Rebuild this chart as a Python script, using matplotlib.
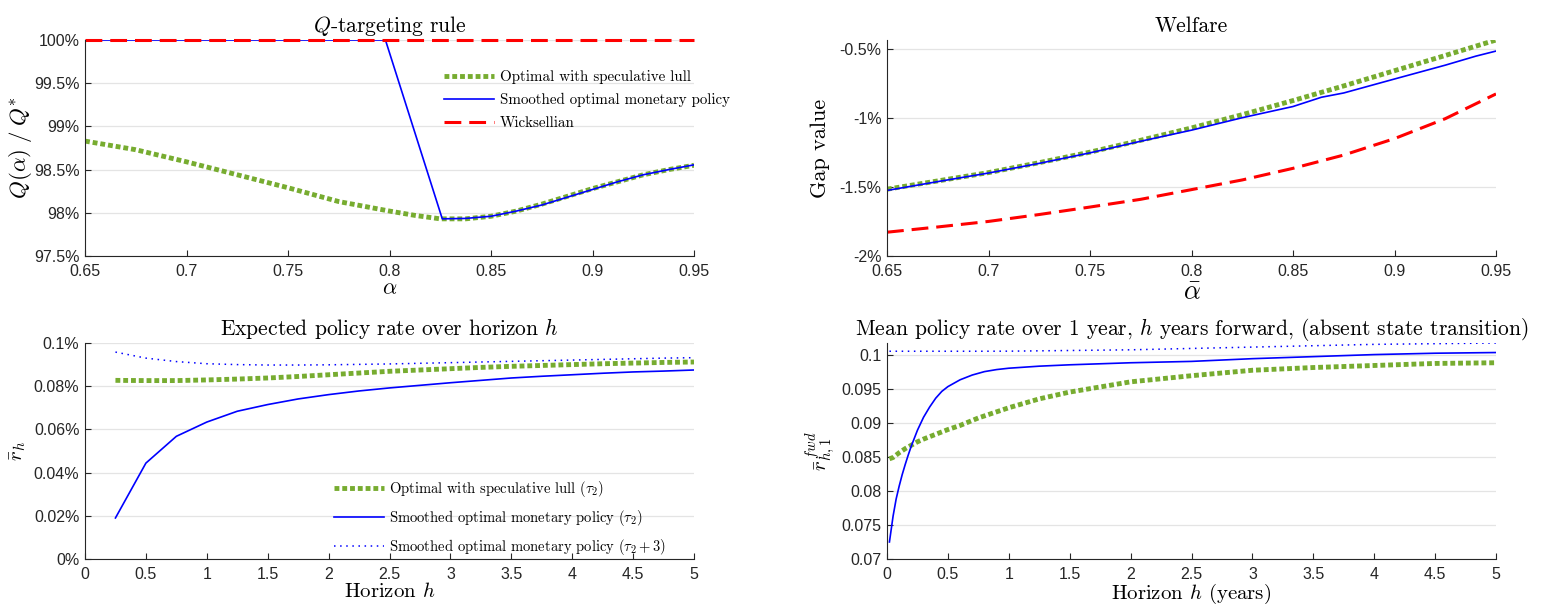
import matplotlib
matplotlib.use("Agg")
import matplotlib.pyplot as plt
from matplotlib.ticker import FuncFormatter

plt.rcParams['mathtext.fontset'] = 'cm'
plt.rcParams['axes.unicode_minus'] = False

# ---------------- data ----------------
# Panel 1: Q-targeting rule
alpha_green = [0.65, 0.675, 0.70, 0.725, 0.75, 0.775, 0.80, 0.8125, 0.825, 0.8375,
               0.85, 0.8625, 0.875, 0.8875, 0.90, 0.9125, 0.925, 0.9375, 0.95]
q_green = [98.83, 98.73, 98.59, 98.44, 98.29, 98.13, 98.02, 97.97, 97.93, 97.93,
           97.96, 98.02, 98.10, 98.19, 98.28, 98.36, 98.44, 98.50, 98.55]
alpha_blue = [0.65, 0.798, 0.826, 0.8375, 0.85, 0.8625, 0.875, 0.8875, 0.90,
              0.9125, 0.925, 0.9375, 0.95]
q_blue = [100.0, 100.0, 97.93, 97.935, 97.96, 98.02, 98.09, 98.18, 98.27,
          98.36, 98.44, 98.50, 98.555]
alpha_red = [0.65, 0.95]
q_red = [100.0, 100.0]

# Panel 2: Welfare
alpha_w = [0.65, 0.675, 0.70, 0.725, 0.75, 0.775, 0.80, 0.825, 0.85, 0.875, 0.90, 0.925, 0.95]
w_green = [-1.517, -1.457, -1.397, -1.325, -1.249, -1.163, -1.074, -0.978, -0.876,
           -0.770, -0.660, -0.550, -0.438]
alpha_wb = [0.65, 0.675, 0.70, 0.725, 0.75, 0.775, 0.80, 0.825, 0.85, 0.864, 0.875,
            0.90, 0.925, 0.94, 0.95]
w_blue = [-1.526, -1.462, -1.400, -1.330, -1.254, -1.170, -1.090, -1.000, -0.919,
          -0.852, -0.821, -0.720, -0.620, -0.555, -0.518]
w_red = [-1.828, -1.790, -1.750, -1.700, -1.646, -1.590, -1.520, -1.450, -1.366,
         -1.270, -1.151, -1.007, -0.828]

# Panel 3: Expected policy rate over horizon h
h_exp = [0.25, 0.5, 0.75, 1.0, 1.25, 1.5, 1.75, 2.0, 2.25, 2.5, 2.75, 3.0, 3.25, 3.5,
         3.75, 4.0, 4.25, 4.5, 4.75, 5.0]
r_green = [0.0827, 0.0826, 0.0826, 0.0829, 0.0833, 0.0838, 0.0845, 0.0853, 0.0861, 0.0869,
           0.0875, 0.0881, 0.0887, 0.0892, 0.0896, 0.0900, 0.0904, 0.0907, 0.0910, 0.0912]
r_blue = [0.0190, 0.0444, 0.0568, 0.0634, 0.0684, 0.0715, 0.0741, 0.0761, 0.0778, 0.0792,
          0.0804, 0.0816, 0.0827, 0.0838, 0.0846, 0.0853, 0.0860, 0.0866, 0.0870, 0.0875]
r_blue3 = [0.0958, 0.0930, 0.0914, 0.0904, 0.0900, 0.0898, 0.0898, 0.0899, 0.0901, 0.0903,
           0.0906, 0.0909, 0.0912, 0.0915, 0.0918, 0.0921, 0.0924, 0.0927, 0.0930, 0.0932]

# Panel 4: Mean policy rate over 1 year, h years forward
h_fwd_blue = [0.02, 0.05, 0.075, 0.1, 0.125, 0.15, 0.175, 0.2, 0.25, 0.3, 0.35, 0.4, 0.45,
              0.5, 0.6, 0.7, 0.8, 0.9, 1.0, 1.25, 1.5, 2.0, 2.5, 3.0, 3.5, 4.0, 4.5, 5.0]
f_blue = [0.0725, 0.0763, 0.0788, 0.0807, 0.0824, 0.0839, 0.0853, 0.0866, 0.0889, 0.0908,
          0.0923, 0.0936, 0.0946, 0.0953, 0.0963, 0.0970, 0.0975, 0.0978, 0.0980, 0.0983,
          0.0985, 0.0988, 0.0990, 0.0994, 0.0997, 0.1000, 0.1002, 0.1003]
h_fwd = [0.02, 0.05, 0.1, 0.15, 0.2, 0.25, 0.3, 0.4, 0.5, 0.6, 0.75, 1.0, 1.25, 1.5,
         2.0, 2.5, 3.0, 3.5, 4.0, 4.5, 5.0]
f_green = [0.0847, 0.0849, 0.0856, 0.0862, 0.0867, 0.0872, 0.0876, 0.0883, 0.0890, 0.0896,
           0.0907, 0.0922, 0.0935, 0.0945, 0.0960, 0.0969, 0.0977, 0.0981, 0.0984, 0.0987, 0.0988]
f_blue3 = [0.10049, 0.10049, 0.10049, 0.10049, 0.10049, 0.10049, 0.10049, 0.10049, 0.10049,
           0.10049, 0.10049, 0.1005, 0.10055, 0.1006, 0.1007, 0.1009, 0.1011, 0.1013,
           0.1015, 0.1016, 0.1017]

ticks_alpha = [0.65, 0.7, 0.75, 0.8, 0.85, 0.9, 0.95]
ticks_h = [0, 0.5, 1, 1.5, 2, 2.5, 3, 3.5, 4, 4.5, 5]

# ---------------- styles ----------------
GREEN = (0.466, 0.674, 0.188)
BLUE = (0, 0, 1)
RED = (1, 0, 0)
AXC = (0.15, 0.15, 0.15)
TICKFONT = 'Liberation Sans'
TXT = 'cmr10'
TITLE_FS = 15.5

green_kw = dict(color=GREEN, lw=3.5, linestyle=(0, (1.0, 0.6)), dash_capstyle='butt')
blue_kw = dict(color=BLUE, lw=1.2)
red_kw = dict(color=RED, lw=2.2, linestyle=(0, (5.5, 2.6)))
blue_dot_kw = dict(color=BLUE, lw=1.1, linestyle=(0, (1, 3)))

fig = plt.figure(figsize=(15.44, 6.04), dpi=100)
W, H = 1544, 604

def mkax(x0, x1, y0, y1):
    return fig.add_axes([x0 / W, 1 - y1 / H, (x1 - x0) / W, (y1 - y0) / H])

ax1 = mkax(85, 694, 40, 256)
ax2 = mkax(887, 1496, 40, 256)
ax3 = mkax(85, 694, 343, 559)
ax4 = mkax(887, 1496, 343, 559)

def style(ax):
    for s in ['top', 'right']:
        ax.spines[s].set_visible(False)
    for s in ['left', 'bottom']:
        ax.spines[s].set_color(AXC)
        ax.spines[s].set_linewidth(0.8)
    ax.tick_params(direction='in', length=4.5, width=0.8, colors=AXC, labelsize=11.5)
    ax.tick_params(axis='x', pad=5.5)
    ax.tick_params(axis='y', pad=4)
    for lab in ax.get_xticklabels() + ax.get_yticklabels():
        lab.set_fontfamily(TICKFONT)
    ax.yaxis.grid(True, color=(0.15, 0.15, 0.15), alpha=0.12, lw=0.9)
    ax.set_axisbelow(True)

def fmt(v):
    s = ('%.4f' % v).rstrip('0').rstrip('.')
    return s

# Panel 1
ax1.plot(alpha_green, q_green, label='Optimal with speculative lull', **green_kw)
ax1.plot(alpha_blue, q_blue, label='Smoothed optimal monetary policy', **blue_kw)
ax1.plot(alpha_red, q_red, label='Wicksellian', clip_on=False, **red_kw)
ax1.set_xlim(0.65, 0.95)
ax1.set_ylim(97.5, 100)
ax1.set_xticks(ticks_alpha)
ax1.set_yticks([97.5, 98, 98.5, 99, 99.5, 100])
ax1.yaxis.set_major_formatter(FuncFormatter(lambda v, p: fmt(v) + '%'))
ax1.xaxis.set_major_formatter(FuncFormatter(lambda v, p: fmt(v)))
ax1.set_title(r'$Q$-targeting rule', fontfamily=TXT, fontsize=TITLE_FS, pad=6)
ax1.set_xlabel(r'$\alpha$', fontsize=16, labelpad=0)
ax1.set_ylabel(r'$Q(\alpha)\;/\;Q^{*}$', fontsize=16.5, labelpad=0)
leg1 = ax1.legend(loc='upper left', bbox_to_anchor=(0.5895, 0.861), frameon=False,
                  prop={'family': TXT, 'size': 10.8}, handlelength=3.3,
                  handletextpad=0.4, labelspacing=0.6, borderpad=0, borderaxespad=0)
style(ax1)

# Panel 2
ax2.plot(alpha_w, w_green, **green_kw)
ax2.plot(alpha_wb, w_blue, **blue_kw)
ax2.plot(alpha_w, w_red, **red_kw)
ax2.set_xlim(0.65, 0.95)
ax2.set_ylim(-2, max(w_green))
ax2.set_xticks(ticks_alpha)
ax2.set_yticks([-2, -1.5, -1, -0.5])
ax2.yaxis.set_major_formatter(FuncFormatter(lambda v, p: fmt(v) + '%'))
ax2.xaxis.set_major_formatter(FuncFormatter(lambda v, p: fmt(v)))
ax2.set_title('Welfare', fontfamily=TXT, fontsize=TITLE_FS, pad=6)
ax2.set_xlabel(r'$\bar{\alpha}$', fontsize=19, labelpad=0)
ax2.set_ylabel('Gap value', fontfamily=TXT, fontsize=16, labelpad=7)
style(ax2)

# Panel 3
ax3.plot(h_exp, r_green, label=r'Optimal with speculative lull ($\tau_2$)', **green_kw)
ax3.plot(h_exp, r_blue, label=r'Smoothed optimal monetary policy ($\tau_2$)', **blue_kw)
ax3.plot(h_exp, r_blue3, label=r'Smoothed optimal monetary policy ($\tau_2+3$)', **blue_dot_kw)
ax3.set_xlim(0, 5)
ax3.set_ylim(0, 0.1)
ax3.set_xticks(ticks_h)
ax3.set_yticks([0, 0.02, 0.04, 0.06, 0.08, 0.1])
ax3.yaxis.set_major_formatter(FuncFormatter(lambda v, p: fmt(v) + '%'))
ax3.xaxis.set_major_formatter(FuncFormatter(lambda v, p: fmt(v)))
ax3.set_title(r'Expected policy rate over horizon $h$', fontfamily=TXT, fontsize=TITLE_FS, pad=6)
ax3.set_xlabel(r'Horizon $h$', fontfamily=TXT, fontsize=15, labelpad=0)
ax3.set_ylabel(r'$\bar{r}_h$', fontsize=15, labelpad=4)
leg3 = ax3.legend(loc='upper left', bbox_to_anchor=(0.409, 0.37), frameon=False,
                  prop={'family': TXT, 'size': 10.5}, handlelength=3.4,
                  handletextpad=0.4, labelspacing=0.62, borderpad=0, borderaxespad=0)
style(ax3)

# Panel 4
ax4.plot(h_fwd, f_green, **green_kw)
ax4.plot(h_fwd_blue, f_blue, **blue_kw)
ax4.plot(h_fwd, f_blue3, **blue_dot_kw)
ax4.set_xlim(0, 5)
ax4.set_ylim(0.07, max(f_blue3))
ax4.set_xticks(ticks_h)
ax4.set_yticks([0.07, 0.075, 0.08, 0.085, 0.09, 0.095, 0.1])
ax4.yaxis.set_major_formatter(FuncFormatter(lambda v, p: fmt(v)))
ax4.xaxis.set_major_formatter(FuncFormatter(lambda v, p: fmt(v)))
ax4.set_title(r'Mean policy rate over 1 year, $h$ years forward, (absent state transition)',
              fontfamily=TXT, fontsize=TITLE_FS, pad=6)
ax4.set_xlabel(r'Horizon $h$ (years)', fontfamily=TXT, fontsize=15, labelpad=0)
ax4.set_ylabel(r'$\bar{r}^{\,fwd}_{h,1}$', fontsize=15, labelpad=2)
style(ax4)

fig.savefig('out.png', dpi=100)
